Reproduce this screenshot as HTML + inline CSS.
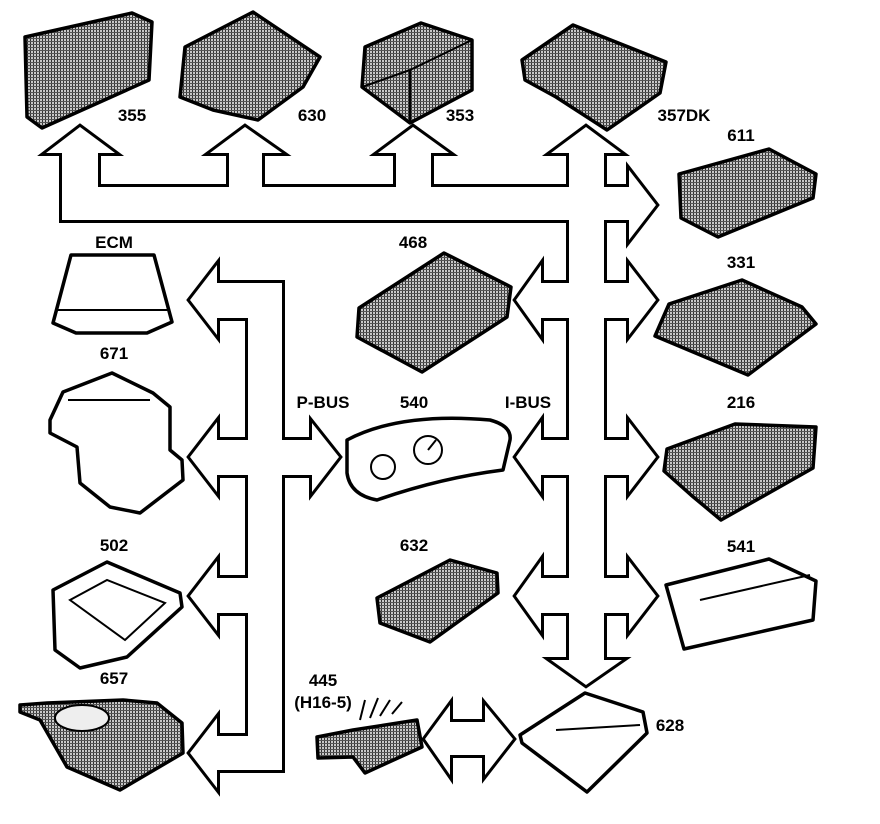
<!DOCTYPE html>
<html><head><meta charset="utf-8"><style>
html,body{margin:0;padding:0;background:#fff}
svg{display:block}
text{font-family:"Liberation Sans",sans-serif;font-weight:bold;font-size:17px;fill:#000;font-stretch:condensed}
</style></head><body>
<svg width="880" height="824" viewBox="0 0 880 824" xmlns="http://www.w3.org/2000/svg">
<defs>
<pattern id="h" width="3" height="3" patternUnits="userSpaceOnUse">
<rect width="3" height="3" fill="#c8c8c8"/><rect width="1" height="3" fill="#333"/><rect width="3" height="1" y="2" fill="#555"/>
</pattern>
<g id="ibus">
<rect x="62" y="187" width="542" height="33"/>
<rect x="62" y="150" width="36" height="70"/>
<rect x="229" y="150" width="33" height="40"/>
<rect x="396" y="150" width="35" height="40"/>
<rect x="569" y="150" width="35" height="512"/>
<rect x="538" y="283" width="35" height="35"/>
<rect x="538" y="440" width="35" height="35"/>
<rect x="538" y="578" width="35" height="35"/>
<rect x="600" y="187" width="32" height="33"/>
<rect x="600" y="283" width="32" height="35"/>
<rect x="600" y="440" width="32" height="35"/>
<rect x="600" y="578" width="32" height="35"/>
<polygon points="46,153 80,127 115,153"/>
<polygon points="210,153 245,127 282,153"/>
<polygon points="378,153 413,127 449,153"/>
<polygon points="551,153 586,127 621,153"/>
<polygon points="541,265 516,300 541,335"/>
<polygon points="541,422 516,457 541,492"/>
<polygon points="541,561 516,596 541,631"/>
<polygon points="629,170 656,205 629,240"/>
<polygon points="629,265 656,300 629,335"/>
<polygon points="629,422 656,457 629,492"/>
<polygon points="629,561 656,596 629,631"/>
<polygon points="551,660 586,685 622,660"/>
</g>
<g id="pbus">
<rect x="248" y="283" width="34" height="487"/>
<rect x="215" y="283" width="36" height="35"/>
<rect x="215" y="440" width="36" height="35"/>
<rect x="215" y="578" width="36" height="35"/>
<rect x="215" y="736" width="36" height="34"/>
<rect x="279" y="440" width="35" height="35"/>
<polygon points="217,265 190,300 217,335"/>
<polygon points="217,422 190,457 217,492"/>
<polygon points="217,561 190,596 217,631"/>
<polygon points="217,718 190,753 217,788"/>
<polygon points="312,423 339,457 312,492"/>
</g>
<g id="dbl">
<rect x="447" y="722" width="41" height="33"/>
<polygon points="450,705 425,739 450,775"/>
<polygon points="485,705 513,739 485,775"/>
</g>
</defs>

<g fill="#000" stroke="#000" stroke-width="6" stroke-linejoin="miter" stroke-miterlimit="10">
<use href="#ibus"/><use href="#pbus"/><use href="#dbl"/>
</g>
<g fill="#fff" stroke="none">
<use href="#ibus"/><use href="#pbus"/><use href="#dbl"/>
</g>

<g stroke="#000" stroke-width="3.5" stroke-linejoin="round">
<polygon fill="url(#h)" points="25,37 132,13 152,22 149,80 42,128 27,117"/>
<polygon fill="url(#h)" points="185,47 253,12 320,57 303,87 258,120 213,110 180,97"/>
<polygon fill="url(#h)" points="365,47 421,23 472,40 472,90 410,123 362,87"/>
<polygon fill="url(#h)" points="522,60 573,25 666,62 660,93 607,130 556,97 525,80"/>
<polygon fill="url(#h)" points="679,174 769,149 816,174 813,198 718,237 681,218"/>
<polygon fill="url(#h)" points="669,304 742,280 802,307 816,324 748,375 655,336"/>
<polygon fill="url(#h)" points="667,449 735,424 816,427 813,468 721,520 691,495 664,471"/>
<polygon fill="#fff" points="666,585 769,559 816,581 813,620 684,649"/>
<polygon fill="url(#h)" points="359,308 444,253 511,287 507,317 422,372 357,337"/>
<path fill="#fff" d="M347,440 Q400,412 490,420 Q512,426 510,440 L503,470 Q440,478 377,500 Q350,495 347,473 Z"/>
<polygon fill="url(#h)" points="377,598 450,560 497,573 498,593 430,642 380,623"/>
<polygon fill="url(#h)" points="317,737 353,730 417,720 422,747 365,773 353,757 318,758"/>
<polygon fill="#fff" points="520,735 585,693 643,712 647,733 587,792 522,743"/>
<polygon fill="#fff" points="71,255 154,255 172,322 147,333 76,333 53,323"/>
<polygon fill="#fff" points="63,392 112,373 153,393 170,407 170,450 182,460 183,480 140,513 110,507 80,483 77,447 50,433 50,420"/>
<polygon fill="#fff" points="53,590 107,562 180,593 182,607 127,657 80,668 55,650"/>
<polygon fill="url(#h)" points="20,705 47,703 123,700 157,703 182,723 183,753 120,790 67,767 40,720 20,712"/>
</g>
<g fill="none" stroke="#000" stroke-width="2">
<line x1="56" y1="310" x2="170" y2="310"/>
<ellipse cx="82" cy="718" rx="27" ry="13" fill="#eee"/>
<polygon points="70,600 107,580 165,603 125,640"/>
<circle cx="428" cy="450" r="14"/>
<circle cx="383" cy="467" r="12"/>
<line x1="428" y1="450" x2="436" y2="440"/>
<path d="M360,720 L365,700 M370,718 L378,698 M380,716 L390,700 M392,714 L402,702"/>
<line x1="556" y1="730" x2="640" y2="725"/>
<line x1="700" y1="600" x2="810" y2="575"/>
<line x1="68" y1="400" x2="150" y2="400"/>
<line x1="362" y1="87" x2="410" y2="70"/>
<line x1="410" y1="70" x2="472" y2="40"/>
<line x1="410" y1="70" x2="410" y2="123"/>
</g>

<text x="132" y="121" text-anchor="middle">355</text>
<text x="312" y="121" text-anchor="middle">630</text>
<text x="460" y="121" text-anchor="middle">353</text>
<text x="684" y="121" text-anchor="middle">357DK</text>
<text x="741" y="141" text-anchor="middle">611</text>
<text x="741" y="268" text-anchor="middle">331</text>
<text x="741" y="408" text-anchor="middle">216</text>
<text x="741" y="552" text-anchor="middle">541</text>
<text x="114" y="248" text-anchor="middle">ECM</text>
<text x="413" y="248" text-anchor="middle">468</text>
<text x="114" y="359" text-anchor="middle">671</text>
<text x="323" y="408" text-anchor="middle">P-BUS</text>
<text x="414" y="408" text-anchor="middle">540</text>
<text x="528" y="408" text-anchor="middle">I-BUS</text>
<text x="114" y="551" text-anchor="middle">502</text>
<text x="414" y="551" text-anchor="middle">632</text>
<text x="114" y="684" text-anchor="middle">657</text>
<text x="323" y="686" text-anchor="middle">445</text>
<text x="323" y="708" text-anchor="middle">(H16-5)</text>
<text x="670" y="731" text-anchor="middle">628</text>
</svg>
</body></html>
